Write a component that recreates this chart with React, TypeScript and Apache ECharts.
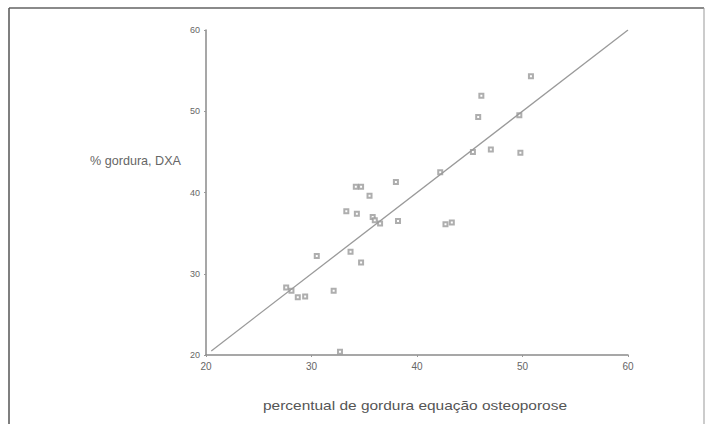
import React, { useEffect, useRef } from "react";
import * as echarts from "echarts";

const xTicks = [20, 30, 40, 50, 60];
const yTicks = [20, 30, 40, 50, 60];
const equacao = [27.6, 28.1, 28.7, 29.4, 30.5, 32.1, 32.7, 33.7, 34.7, 33.3, 34.3, 35.8, 36.0, 36.5, 38.2, 42.7, 43.3, 34.2, 34.7, 35.5, 38.0, 42.2, 45.3, 47.0, 49.8, 45.8, 49.7, 46.1, 50.8];
const dxa = [28.3, 27.9, 27.1, 27.2, 32.2, 27.9, 20.4, 32.7, 31.4, 37.7, 37.4, 37.0, 36.6, 36.2, 36.5, 36.1, 36.3, 40.7, 40.7, 39.6, 41.3, 42.5, 45.0, 45.3, 44.9, 49.3, 49.5, 51.9, 54.3];
const identityLine = [20.5, 60];

export default function App() {
  const ref = useRef<HTMLDivElement>(null);
  useEffect(() => {
    if (!ref.current) return;
    const chart = echarts.init(ref.current, null, { renderer: "svg" });
    const pts = equacao.map((x, i) => [x, dxa[i]]);
    chart.setOption({
      animation: false,
      backgroundColor: "#ffffff",
      grid: { left: 206, right: 83, top: 30, bottom: 69 },
      xAxis: {
        type: "value",
        min: xTicks[0],
        max: xTicks[xTicks.length - 1],
        interval: 10,
        axisLine: { show: true, lineStyle: { color: "#8a8a8a", width: 1.5 } },
        axisTick: { show: true, length: 2, lineStyle: { color: "#999" } },
        axisLabel: { color: "#666", fontSize: 10, fontFamily: "Liberation Sans", margin: 6 },
        splitLine: { show: false },
      },
      yAxis: {
        type: "value",
        min: yTicks[0],
        max: yTicks[yTicks.length - 1],
        interval: 10,
        axisLine: { show: true, lineStyle: { color: "#8a8a8a", width: 1.5 } },
        axisTick: { show: true, length: 2, lineStyle: { color: "#999" } },
        axisLabel: { color: "#666", fontSize: 9, fontFamily: "Liberation Sans", margin: 6 },
        splitLine: { show: false },
      },
      series: [
        {
          type: "line",
          data: identityLine.map((v) => [v, v]),
          symbol: "none",
          lineStyle: { color: "#9a9a9a", width: 1.3 },
          silent: true,
        },
        {
          type: "scatter",
          data: pts,
          symbol: "emptyRect",
          symbolSize: 4,
          itemStyle: { color: "#9a9a9a", borderColor: "#9a9a9a", borderWidth: 1 },
        },
      ],
      graphic: [
        { type: "line", shape: { x1: 9, y1: 8, x2: 704, y2: 8 }, style: { stroke: "#8a8a8a", lineWidth: 2 } },
        { type: "line", shape: { x1: 9, y1: 8, x2: 9, y2: 424 }, style: { stroke: "#555", lineWidth: 1.5 } },
        { type: "line", shape: { x1: 704, y1: 8, x2: 704, y2: 424 }, style: { stroke: "#999", lineWidth: 1 } },
        {
          type: "text",
          x: 90,
          y: 161,
          scaleX: 1.05,
          style: {
            text: "% gordura, DXA",
            fill: "#666",
            fontSize: 12,
            fontFamily: "Liberation Sans",
            verticalAlign: "middle",
          },
        },
        {
          type: "text",
          x: 415,
          y: 405,
          scaleX: 1.19,
          style: {
            text: "percentual de gordura equação osteoporose",
            fill: "#555",
            fontSize: 13,
            fontFamily: "Liberation Sans",
            align: "center",
            verticalAlign: "middle",
          },
        },
      ],
    });
    return () => chart.dispose();
  }, []);
  return <div ref={ref} style={{ width: 711, height: 424, position: "absolute", left: 0, top: 0 }} />;
}
